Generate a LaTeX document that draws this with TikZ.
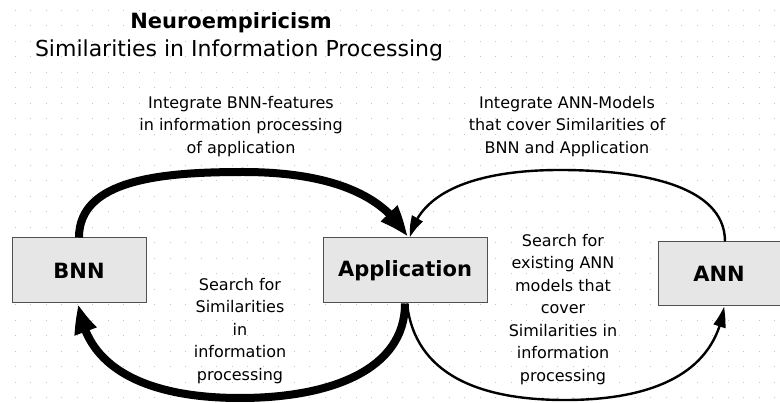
\documentclass[tikz,border=0pt]{standalone}
\usepackage{fontspec}
\setmainfont{DejaVu Sans}
\usetikzlibrary{arrows.meta,bending}
\definecolor{boxfill}{HTML}{E6E6E6}
\definecolor{boxline}{HTML}{505050}
\definecolor{griddot}{HTML}{C4C4C4}
\tikzset{
  box/.style={draw=boxline,line width=1pt,fill=boxfill,inner sep=0pt,
    font=\fontsize{21}{25}\selectfont\bfseries},
  lbl/.style={align=center,inner sep=0pt,anchor=north,
    font=\fontsize{16}{22.5}\selectfont},
  thickarrow/.style={line width=8pt,-{Triangle[length=30pt,width=21pt,bend]}},
  thinarrow/.style={line width=2.4pt,-{Triangle[length=21pt,width=12pt,bend]}},
}
\begin{document}
\begin{tikzpicture}[x=1pt,y=-1pt]
\useasboundingbox (0,0) rectangle (780,403);
\fill[white] (0,0) rectangle (780,403);
% faint dotted grid
\foreach \i in {0,...,50} {
  \foreach \j in {0,...,25} {
    \fill[griddot] ({15+15.5*\i-0.5},{10.5+15.5*\j-0.5}) rectangle ++(1,1);
  }
}
% title
\node[anchor=base,inner sep=0pt,font=\fontsize{21}{25}\selectfont\bfseries] (title) at (231,29) {Neuroempiricism};
\node[anchor=base,inner sep=0pt,font=\fontsize{22}{26}\selectfont] (subtitle) at (239,57) {Similarities in Information Processing};
% boxes
\node[box,minimum width=134pt,minimum height=65pt] (bnn) at (79,270.5) {BNN};
\node[box,minimum width=164pt,minimum height=65pt] (app) at (405,270.5) {Application};
\node[box,minimum width=122pt,minimum height=64pt] (ann) at (719,274) {ANN};
% labels
\node[lbl] (l1) at (241,96) {Integrate BNN-features\\in information processing\\of application};
\node[lbl] (l2) at (567,96) {Integrate ANN-Models\\that cover Similarities of\\BNN and Application};
\node[lbl] (l3) at (240,278) {Search for\\Similarities\\in\\information\\processing};
\node[lbl] (l4) at (563,234) {Search for\\existing ANN\\models that\\cover\\Similarities in\\information\\processing};
% connectors
\draw[thickarrow] (bnn.north) .. controls (79,180) and (160,172) .. (243,172)
  .. controls (330,172) and (385,195) .. ([xshift=2pt]app.north);
\draw[thinarrow] ([xshift=6pt]ann.north) .. controls (725,185) and (640,170) .. (560,170)
  .. controls (480,170) and (420,190) .. ([xshift=5pt]app.north);
\draw[thickarrow] (app.south) .. controls (405,370) and (330,398) .. (240,398)
  .. controls (150,398) and (85,370) .. (bnn.south);
\draw[thinarrow] ([xshift=2pt]app.south) .. controls (415,375) and (480,400) .. (565,400)
  .. controls (650,400) and (715,375) .. ([xshift=5pt]ann.south);
\end{tikzpicture}
\end{document}
